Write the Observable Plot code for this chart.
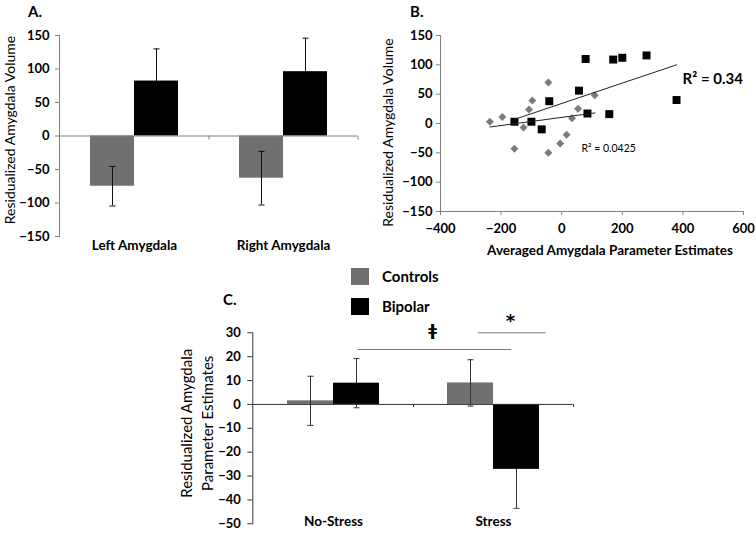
<!DOCTYPE html>
<html><head><meta charset="utf-8">
<script src="https://cdn.jsdelivr.net/npm/d3@7"></script>
<script src="https://cdn.jsdelivr.net/npm/@observablehq/plot@0.6"></script>
<style>
body{margin:0;background:#fff;}
#wrap{position:relative;width:756px;height:533px;overflow:hidden;font-family:Lato,"Open Sans",sans-serif;color:#000;}
.panel{position:absolute;}
.tag{position:absolute;font-weight:bold;font-size:15px;line-height:1;}
.sw{position:absolute;width:18px;height:17px;}
.lg{position:absolute;font-weight:bold;font-size:15px;line-height:1;}
svg g[aria-label$="tick label"], svg g[aria-label$="tick label"] text{font-weight:700 !important;}
</style></head><body><div id="wrap">
<div class="tag" style="left:28px;top:4px">A.</div>
<div class="tag" style="left:410px;top:4px">B.</div>
<div class="tag" style="left:223px;top:292px">C.</div>
<div class="sw" style="left:351px;top:268px;background:#707070"></div>
<div class="lg" style="left:382px;top:269px">Controls</div>
<div class="sw" style="left:351px;top:298px;background:#000"></div>
<div class="lg" style="left:382px;top:299px">Bipolar</div>
</div>
<script>
// ---------- Panel A data ----------
const regions = ["Left Amygdala", "Right Amygdala"];
const volumeControls = [-75, -63];
const volumeControlsSE = [29.5, 40];
const volumeBipolar = [82, 96];
const volumeBipolarSE = [48, 50];
const volumeTicks = [-150, -100, -50, 0, 50, 100, 150];

// ---------- Panel B data ----------
const bipolarPE  = [-156, -100, -66, -41, 57, 85, 79, 157, 170, 200, 280, 379];
const bipolarVol = [3, 3, -10, 38, 56, 17, 110, 16, 109, 112, 116, 40];
const controlsPE  = [-237, -196, -156, -126, -108, -97, -44, -44, -5, 16, 34, 54, 109];
const controlsVol = [3, 11, -43, -7, 24, 39, 70, -50, -34, -19, 9, 25, 48];
const bipolarFitPE = [-156, 379];
const bipolarFitVol = [7, 100];
const controlsFitPE = [-237, 110];
const controlsFitVol = [-6, 18];
const r2Text = ["R² = 0.34", "R² = 0.0425"];
const r2PE = [399, 65];
const r2Vol = [75, -42];
const peTicksX = [-400, -200, 0, 200, 400, 600];

// ---------- Panel C data ----------
const conditions = ["No-Stress", "Stress"];
const paramControls = [1.5, 9.0];
const paramControlsSE = [10.3, 9.7];
const paramBipolar = [8.9, -27.2];
const paramBipolarSE = [10.3, 16.3];
const paramTicks = [-50, -40, -30, -20, -10, 0, 10, 20, 30];
const sigSymbols = ["ǂ", "*"];
const sigSymbolY = [30.7, 36];
const sigLineY = [23, 30];

const GRAY = "#707070";
const AXIS = "#808080";
const FONT = "Lato, 'Open Sans', sans-serif";
const wrap = document.getElementById("wrap");
function place(node, left, top) {
  const d = document.createElement("div");
  d.className = "panel"; d.style.left = left + "px"; d.style.top = top + "px";
  d.appendChild(node); wrap.appendChild(d);
}
const capSymbol = {draw(ctx, size) { const h = Math.sqrt(size / Math.PI); ctx.moveTo(-h, 0); ctx.lineTo(h, 0); }};
function errorBars(data, dx, color) {
  return [
    Plot.ruleX(data, {x: "key", y1: d => d.v - d.se, y2: d => d.v + d.se, dx, stroke: color, strokeWidth: 1}),
    Plot.dot(data, {x: "key", y: d => d.v - d.se, dx, symbol: capSymbol, r: 3, stroke: color, fill: "none", strokeWidth: 1}),
    Plot.dot(data, {x: "key", y: d => d.v + d.se, dx, symbol: capSymbol, r: 3, stroke: color, fill: "none", strokeWidth: 1})
  ];
}
const baseStyle = {fontFamily: FONT, fontWeight: "bold", background: "transparent", overflow: "visible"};

// ---------- Panel A ----------
const ctrlA = regions.map((k, i) => ({key: k, v: volumeControls[i], se: volumeControlsSE[i]}));
const bipA = regions.map((k, i) => ({key: k, v: volumeBipolar[i], se: volumeBipolarSE[i]}));
const plotA = Plot.plot({
  width: 372, height: 262, marginTop: 35, marginBottom: 26, marginLeft: 59, marginRight: 15,
  style: baseStyle,
  x: {domain: regions, paddingInner: 0.41, paddingOuter: 0.205, axis: null},
  y: {domain: [-150, 150], axis: null},
  marks: [
    ...errorBars(bipA, 22, "#111"),
    Plot.barY(ctrlA, {x: "key", y: "v", fill: GRAY, insetRight: 44}),
    Plot.barY(bipA, {x: "key", y: "v", fill: "#000", insetLeft: 44}),
    ...errorBars(ctrlA, -22, "#111"),
    Plot.ruleY([0], {stroke: AXIS}),
    Plot.ruleX(regions, {x: d => d, dx: 74.5, y1: 0, y2: -6, stroke: AXIS}),
    Plot.frame({anchor: "left", stroke: AXIS}),
    Plot.axisY({ticks: volumeTicks, tickSize: 4, tickPadding: 6, stroke: AXIS, fontSize: 13, fontWeight: "bold", label: null}),
    Plot.text(regions, {x: d => d, frameAnchor: "bottom", dy: 13, fontSize: 13.5}),
    Plot.text(["Residualized Amygdala Volume"], {frameAnchor: "left", textAnchor: "middle", rotate: -90, dx: -49, dy: -6, fontSize: 14, fontWeight: "normal"})
  ]
});
place(plotA, 0, 0);

// ---------- Panel B ----------
const bip = bipolarPE.map((x, i) => ({x, y: bipolarVol[i]}));
const ctl = controlsPE.map((x, i) => ({x, y: controlsVol[i]}));
const bipFit = bipolarFitPE.map((x, i) => ({x, y: bipolarFitVol[i]}));
const ctlFit = controlsFitPE.map((x, i) => ({x, y: controlsFitVol[i]}));
const plotB = Plot.plot({
  width: 384, height: 262, marginTop: 35, marginBottom: 51, marginLeft: 68, marginRight: 13,
  style: baseStyle,
  x: {domain: [-400, 600], axis: null},
  y: {domain: [-150, 150], axis: null},
  marks: [
    Plot.ruleX([-400], {stroke: AXIS}),
    Plot.ruleY([-150], {stroke: AXIS}),
    Plot.axisY({ticks: volumeTicks, tickSize: 4, tickPadding: 4, stroke: AXIS, fontSize: 13, fontWeight: "bold", label: null}),
    Plot.axisX({ticks: peTicksX, tickSize: 4, tickPadding: 8, stroke: AXIS, fontSize: 13, fontWeight: "bold", label: null}),
    Plot.dot(ctl, {x: "x", y: "y", symbol: "diamond2", r: 3.6, fill: "#7b7b7b", stroke: "none"}),
    Plot.dot(bip, {x: "x", y: "y", symbol: "square", r: 4.5, fill: "#000", stroke: "none"}),
    Plot.line(bipFit, {x: "x", y: "y", stroke: "#222", strokeWidth: 1}),
    Plot.line(ctlFit, {x: "x", y: "y", stroke: "#222", strokeWidth: 1}),
    Plot.text([r2Text[0]], {x: () => r2PE[0], y: () => r2Vol[0], textAnchor: "start", fontSize: 15}),
    Plot.text([r2Text[1]], {x: () => r2PE[1], y: () => r2Vol[1], textAnchor: "start", fontSize: 10.5, fontWeight: "normal"}),
    Plot.text(["Averaged Amygdala Parameter Estimates"], {frameAnchor: "bottom", textAnchor: "middle", dx: 18, dy: 43, fontSize: 13.5}),
    Plot.text(["Residualized Amygdala Volume"], {frameAnchor: "left", textAnchor: "middle", rotate: -90, dx: -52, dy: 9, fontSize: 14, fontWeight: "normal"})
  ]
});
place(plotB, 372, 0);

// ---------- Panel C ----------
const ctrlC = conditions.map((k, i) => ({key: k, v: paramControls[i], se: paramControlsSE[i]}));
const bipC = conditions.map((k, i) => ({key: k, v: paramBipolar[i], se: paramBipolarSE[i]}));
const sigLong = [{from: conditions[0], to: conditions[1], y: sigLineY[0]}];
const sigShort = [{from: conditions[1], to: conditions[1], y: sigLineY[1]}];
const plotC = Plot.plot({
  width: 756, height: 271, marginTop: 70.3, marginBottom: 9.7, marginLeft: 252.3, marginRight: 183.3,
  style: baseStyle,
  x: {domain: conditions, paddingInner: 0.426, paddingOuter: 0.213, axis: null},
  y: {domain: [-50, 30], axis: null},
  marks: [
    ...errorBars(bipC, 23, "#333"),
    Plot.barY(ctrlC, {x: "key", y: "v", fill: GRAY, insetRight: 46}),
    Plot.barY(bipC, {x: "key", y: "v", fill: "#000", insetLeft: 46}),
    ...errorBars(ctrlC, -23, "#333"),
    Plot.ruleY([0], {stroke: "#333"}),
    Plot.ruleX(conditions, {x: d => d, dx: 80, y1: 0, y2: -1.3, stroke: "#333"}),
    Plot.frame({anchor: "left", stroke: "#333"}),
    Plot.axisY({ticks: paramTicks, tickSize: 5, tickPadding: 7, stroke: "#333", fontSize: 13, fontWeight: "bold", label: null}),
    Plot.ruleY(sigLong, {x1: "from", x2: "to", y: "y", insetLeft: 70.4, insetRight: 27.8, stroke: "#777"}),
    Plot.ruleY(sigShort, {x1: "from", x2: "to", y: "y", insetLeft: 30.8, insetRight: -6.5, stroke: "#777"}),
    Plot.text([sigSymbols[0]], {x: () => conditions[1], y: () => sigSymbolY[0], dx: -60.8, fontSize: 16, fontFamily: "'DejaVu Sans', sans-serif"}),
    Plot.text([sigSymbols[1]], {x: () => conditions[1], y: () => sigSymbolY[1], dx: 17, dy: 3, fontSize: 18, fill: "#000", fontFamily: "'DejaVu Sans', sans-serif"}),
    Plot.text(conditions, {x: d => d, frameAnchor: "bottom", dy: 2, fontSize: 13.5}),
    Plot.text(["Residualized Amygdala\nParameter Estimates"], {frameAnchor: "left", textAnchor: "middle", rotate: -90, dx: -57, dy: -5, fontSize: 15, lineHeight: 1.4, fontWeight: "normal"})
  ]
});
place(plotC, 0, 262);
</script></body></html>
